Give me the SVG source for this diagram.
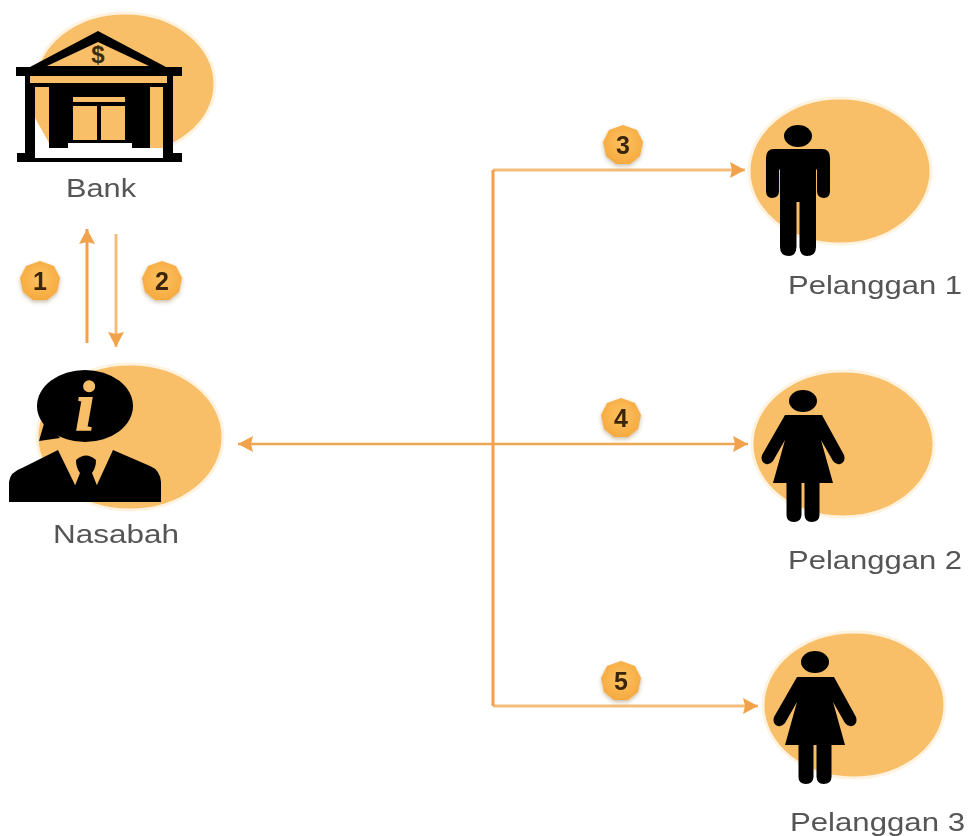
<svg xmlns="http://www.w3.org/2000/svg" width="968" height="836" viewBox="0 0 968 836">
<defs>
<marker id="ah" markerUnits="userSpaceOnUse" markerWidth="16" markerHeight="18" refX="15" refY="9" orient="auto"><path d="M0 1L15 9L0 17L2 9Z" fill="#f2a24a"/></marker>
<filter id="soft" x="-5%" y="-5%" width="110%" height="110%"><feGaussianBlur stdDeviation="0.6"/></filter>
<filter id="softer" x="-5%" y="-20%" width="110%" height="140%"><feGaussianBlur stdDeviation="0.4"/></filter>
<filter id="shadow" x="-30%" y="-30%" width="160%" height="170%"><feDropShadow dx="0" dy="2" stdDeviation="2" flood-color="#7a5a20" flood-opacity="0.4"/></filter>
<radialGradient id="bg" cx="50%" cy="45%" r="60%"><stop offset="0" stop-color="#fdc262"/><stop offset="1" stop-color="#f5a83c"/></radialGradient>
<polygon id="badge" points="0,-20 14,-15 20,-3 17,11 7,19 -7,19 -17,11 -20,-3 -14,-15" fill="url(#bg)" filter="url(#shadow)"/>
<path id="man" d="M-24 0H24Q32 0 32 9V42Q32 49 26 49Q19 49 19 42V21L18 20V98Q18 107 9 107Q2 107 1.5 98V53H-1.5V98Q-2 107 -9 107Q-18 107 -18 98V20L-19 21V42Q-19 49 -26 49Q-32 49 -32 42V9Q-32 0 -24 0Z"/>
<path id="woman" d="M-18 0H19L41 40Q43 47 37 49Q33 50 30 46L18 25L30 68H16.5V100Q16.5 107 8.5 107Q2 107 1.5 100V68H-1.5V100Q-2 107 -9 107Q-16.5 107 -16.5 100V68H-30L-18 25L-30 46Q-33 50 -37 49Q-43 47 -41 40Z"/>
</defs>
<style>
.lb{font-family:"Liberation Sans",Arial,sans-serif;font-size:25px;fill:#555;filter:url(#softer)}
.n{font-family:"Liberation Sans",Arial,sans-serif;font-size:25px;font-weight:700;fill:#3a2808;text-anchor:middle;filter:url(#softer)}
.c{fill:#f8bf68;stroke:#fdf3e0;stroke-width:3}
.h{fill:none;stroke:#f4bd7c;stroke-width:3}
.t{fill:none;stroke:#eda851;stroke-width:2.5}
.v{fill:none;stroke:#f79d4c;stroke-width:3}
</style>
<g id="connectors">
<path class="v" d="M87 343V229" marker-end="url(#ah)"/>
<path class="h" d="M116 234V347" marker-end="url(#ah)"/>
<path class="t" d="M493 444H238" marker-end="url(#ah)"/>
<path class="t" d="M493 444H748" marker-end="url(#ah)"/>
<path class="h" d="M493 170H745" marker-end="url(#ah)"/>
<path class="h" d="M493 706H758" marker-end="url(#ah)"/>
<path class="v" d="M493 170V706"/>
</g>
<g id="bank">
<ellipse class="c" cx="125" cy="84" rx="90" ry="71"/>
<g filter="url(#soft)">
<path fill-rule="evenodd" d="M30 67L98 31L166 67H182V76H173V153H182V162H17V153H25V76H16V67ZM47 66H149L98 42Z"/>
<rect x="30" y="76" width="137" height="7" fill="#f8bf68"/>
<rect x="35" y="87" width="14" height="66" fill="#f8bf68"/>
<rect x="150" y="87" width="13" height="63" fill="#f8bf68"/>
<path d="M35 118L49 143V153H35Z" fill="#fff"/>
<path d="M35 153H163V158H35Z" fill="#fff"/>
<path d="M49 83H150V148H49Z"/>
<path d="M49 148H68V143H132V148H163V153H49Z" fill="#fff"/>
<rect x="73" y="97" width="52" height="5" fill="#f8bf68"/>
<rect x="73" y="106" width="24" height="34" fill="#f8bf68"/>
<rect x="101" y="106" width="24" height="34" fill="#f8bf68"/>
</g>
<text x="98" y="63" font-family="Liberation Sans, sans-serif" font-size="24" font-weight="700" fill="#3a2a10" text-anchor="middle">$</text>
<text class="lb" x="66" y="197" textLength="70" lengthAdjust="spacingAndGlyphs">Bank</text>
</g>
<g id="nasabah">
<ellipse class="c" cx="130" cy="437" rx="93" ry="73"/>
<g filter="url(#soft)">
<ellipse cx="85" cy="406" rx="48" ry="36"/>
<path d="M45 420L39 441L60 438Z"/>
<path d="M9 502V482Q10 472 22 468L58 450L76 487L82 476L88 476L96 487L113 450L150 466Q160 470 161 482V502Z"/>
<path d="M76 460Q86 451 96 460Q96 468 92 473L98 488V502H74V488L80 473Q76 468 76 460Z"/>
</g>
<text x="85" y="430" font-family="Liberation Serif, serif" font-style="italic" font-weight="700" font-size="70" fill="#f8bf68" stroke="#f8bf68" stroke-width="1.5" text-anchor="middle">i</text>
<text class="lb" x="53" y="543" textLength="126" lengthAdjust="spacingAndGlyphs">Nasabah</text>
</g>
<g id="pelanggan1">
<ellipse class="c" cx="840" cy="171" rx="91" ry="73"/>
<ellipse cx="798" cy="136" rx="14" ry="11"/>
<use href="#man" x="798" y="149"/>
<text class="lb" x="788" y="294" textLength="174" lengthAdjust="spacingAndGlyphs">Pelanggan 1</text>
</g>
<g id="pelanggan2">
<ellipse class="c" cx="843" cy="444" rx="91" ry="73"/>
<ellipse cx="803" cy="401" rx="14" ry="11"/>
<use href="#woman" x="803" y="415"/>
<text class="lb" x="788" y="569" textLength="174" lengthAdjust="spacingAndGlyphs">Pelanggan 2</text>
</g>
<g id="pelanggan3">
<ellipse class="c" cx="854" cy="705" rx="91" ry="73"/>
<ellipse cx="815" cy="662" rx="14" ry="11"/>
<use href="#woman" x="815" y="677"/>
<text class="lb" x="790" y="831" textLength="175" lengthAdjust="spacingAndGlyphs">Pelanggan 3</text>
</g>
<g id="badge1"><use href="#badge" x="40" y="281"/><text class="n" x="40" y="290">1</text></g>
<g id="badge2"><use href="#badge" x="162" y="281"/><text class="n" x="162" y="290">2</text></g>
<g id="badge3"><use href="#badge" x="623" y="145"/><text class="n" x="623" y="154">3</text></g>
<g id="badge4"><use href="#badge" x="621" y="418"/><text class="n" x="621" y="427">4</text></g>
<g id="badge5"><use href="#badge" x="621" y="681"/><text class="n" x="621" y="690">5</text></g>
</svg>
